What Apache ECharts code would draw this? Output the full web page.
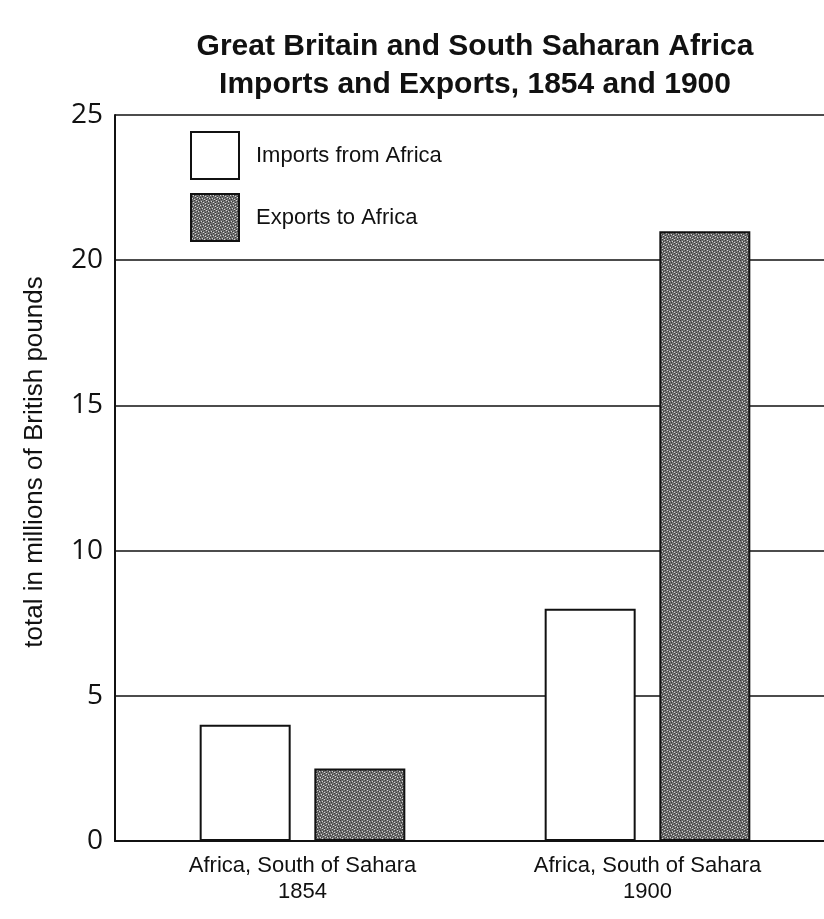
<!DOCTYPE html>
<html>
<head>
<meta charset="utf-8">
<script src="https://cdn.jsdelivr.net/npm/echarts@6/dist/echarts.min.js"></script>
<style>
  html, body { margin: 0; padding: 0; background: #fff; }
  #chart { width: 824px; height: 919px; }
</style>
</head>
<body>
<div id="chart"></div>
<script>
const regions = ["Africa, South of Sahara", "Africa, South of Sahara"];
const years = ["1854", "1900"];
const importsFromAfrica = [4, 8];
const exportsToAfrica = [2.5, 21];
const yTicks = [0, 5, 10, 15, 20, 25];

const labelFont = "Liberation Sans, Arial, sans-serif";

// grey speckled fill like the printed screen tone
function makeTexture() {
  const c = document.createElement("canvas");
  c.width = 10;
  c.height = 10;
  const ctx = c.getContext("2d");
  ctx.fillStyle = "#727272";
  ctx.fillRect(0, 0, 10, 10);
  for (let i = 0; i < 10; i++) {
    for (let j = 0; j < 10; j++) {
      if ((i + 2 * j) % 5 === 0) {
        ctx.fillStyle = "#383838";
        ctx.fillRect(i, j, 1, 1);
      } else if ((3 * i + j) % 7 === 0) {
        ctx.fillStyle = "#d4d4d4";
        ctx.fillRect(i, j, 1, 1);
      }
    }
  }
  return c;
}

const chart = echarts.init(document.getElementById("chart"), null, { renderer: "canvas" });
const exportFill = { image: makeTexture(), repeat: "repeat" };

const option = {
  backgroundColor: "#fff",
  animation: false,
  title: {
    text: "Great Britain and South Saharan Africa\nImports and Exports, 1854 and 1900",
    left: 470,
    top: 23,
    textAlign: "center",
    textStyle: {
      fontFamily: labelFont,
      fontSize: 30,
      fontWeight: "bold",
      color: "#111",
      lineHeight: 38,
    },
  },
  legend: {
    orient: "vertical",
    left: 190,
    top: 131,
    itemWidth: 48,
    itemHeight: 47,
    itemGap: 13,
    padding: 0,
    selectedMode: false,
    icon: "rect",
    textStyle: { fontFamily: labelFont, fontSize: 22, color: "#111", padding: [0, 0, 0, 12] },
    data: ["Imports from Africa", "Exports to Africa"],
  },
  graphic: [
    {
      type: "text",
      x: 35,
      y: 462,
      rotation: Math.PI / 2,
      style: {
        text: "total in millions of British pounds",
        font: "26px " + labelFont,
        fill: "#111",
        textAlign: "center",
        textVerticalAlign: "middle",
      },
    },
  ],
  grid: [
    { left: 115, right: 0, top: 115, bottom: 78 },
    { left: 130, right: 4, top: 115, bottom: 78 },
  ],
  xAxis: [
    {
      gridIndex: 0,
      type: "value",
      min: 0,
      max: 1,
      axisLine: { show: true, lineStyle: { color: "#111", width: 2 } },
      axisTick: { show: false },
      axisLabel: { show: false },
      splitLine: { show: false },
    },
    {
      gridIndex: 1,
      type: "category",
      data: years,
      axisLine: { show: false },
      axisTick: { show: false },
      axisLabel: {
        margin: 12,
        fontFamily: labelFont,
        fontSize: 22,
        lineHeight: 26,
        color: "#111",
        formatter: (v, i) => regions[i] + "\n" + v,
      },
    },
  ],
  yAxis: [
    {
      gridIndex: 0,
      type: "value",
      min: yTicks[0],
      max: yTicks[yTicks.length - 1],
      interval: 5,
      axisLine: { show: true, lineStyle: { color: "#111", width: 2 } },
      axisTick: { show: false },
      axisLabel: { margin: 12, fontFamily: "Open Sans, sans-serif", fontSize: 28, color: "#111" },
      splitLine: { show: true, lineStyle: { color: "#111", width: 1.5 } },
    },
    {
      gridIndex: 1,
      type: "value",
      min: yTicks[0],
      max: yTicks[yTicks.length - 1],
      interval: 5,
      show: false,
      splitLine: { show: false },
    },
  ],
  series: [
    {
      name: "Imports from Africa",
      type: "bar",
      xAxisIndex: 1,
      yAxisIndex: 1,
      data: importsFromAfrica,
      barWidth: 91,
      barGap: "26%",
      itemStyle: { color: "#fff", borderColor: "#111", borderWidth: 2 },
    },
    {
      name: "Exports to Africa",
      type: "bar",
      xAxisIndex: 1,
      yAxisIndex: 1,
      data: exportsToAfrica,
      barWidth: 91,
      itemStyle: { color: exportFill, borderColor: "#111", borderWidth: 2 },
    },
  ],
};

chart.setOption(option);
</script>
</body>
</html>
